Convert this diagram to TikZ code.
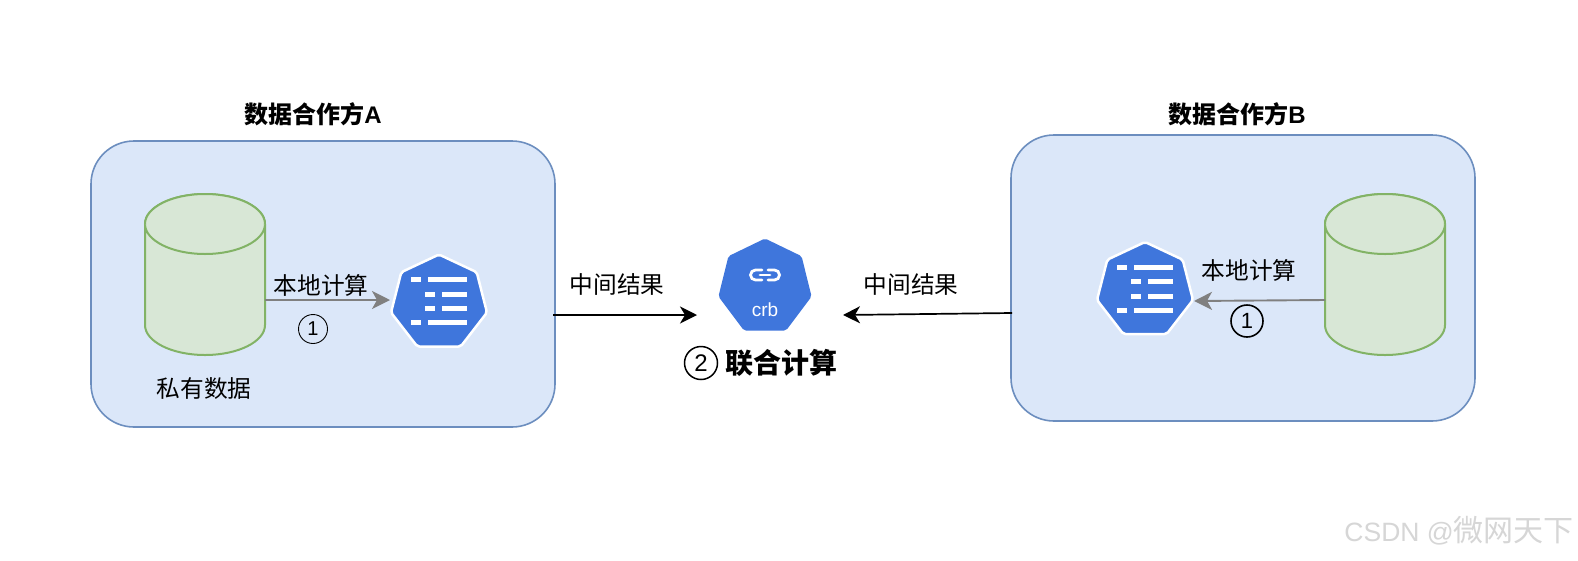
\documentclass[tikz,border=0pt]{standalone}
\usepackage{fontspec}
\setmainfont{Liberation Sans}
\newfontfamily\cjk{Noto Sans CJK SC}
\usetikzlibrary{arrows.meta}
\definecolor{boxfill}{HTML}{DBE7F9}
\definecolor{boxline}{HTML}{6C8EBF}
\definecolor{cylfill}{HTML}{D8E7D6}
\definecolor{cylline}{HTML}{82B366}
\definecolor{kblue}{HTML}{3F76DC}
\definecolor{wm}{HTML}{D6D6D6}
\tikzset{
  party/.style={draw=boxline,fill=boxfill,line width=1.6pt,rounded corners=43pt,minimum width=464pt,minimum height=286pt,inner sep=0pt},
  cyl/.style={draw=cylline,fill=cylfill,line width=2pt},
  lbl/.style={font=\fontsize{23.7}{26}\selectfont\cjk,inner sep=0pt,text=black},
  title/.style={font=\fontsize{24}{27}\selectfont\bfseries,inner sep=0pt,text=black},
  grayarrow/.style={draw=gray,line width=1.9pt,-{Stealth[length=18pt,width=18pt,inset=5pt]}},
  blackarrow/.style={draw=black,line width=1.7pt,-{Stealth[length=17pt,width=17pt,inset=5pt]}},
  num/.style={circle,draw=black,inner sep=0pt,text=black},
  hept/.style={fill=kblue,line join=round,rounded corners=2pt},
  bar/.style={fill=white,draw=none},
  anchorbox/.style={inner sep=0pt,minimum width=100pt,minimum height=92pt}
}
\newcommand{\mycyl}[3]{%
  \path[cyl] (#2,#3+30) -- (#2,#3+131) arc[start angle=180,end angle=360,x radius=60,y radius=-30]
     -- (#2+120,#3+30) arc[start angle=0,end angle=360,x radius=60,y radius=-30];
  \path[cyl] (#2,#3+30) arc[start angle=180,end angle=360,x radius=60,y radius=30];
  \node[inner sep=0pt,minimum width=120pt,minimum height=161pt] (#1) at (#2+60,#3+80.5) {};
}
\newcommand{\hepta}[4]{%
  \begin{scope}[shift={(#1,#2)},xscale=#4]
    \path[hept,#3] (0,0) -- (37.7,17.7) -- (48,58) -- (21.7,92) -- (-21.7,92) -- (-48,58) -- (-37.7,17.7) -- cycle;
  \end{scope}
}
\newcommand{\bars}[2]{%
  \begin{scope}[shift={(#1,#2)}]
    \foreach \yy in {25.3,68.3}{
      \fill[bar] (-28,\yy-2.5) rectangle (-18,\yy+2.5);
      \fill[bar] (-11.3,\yy-2.5) rectangle (28,\yy+2.5);
    }
    \foreach \yy in {39.7,54}{
      \fill[bar] (-14,\yy-2.5) rectangle (-4,\yy+2.5);
      \fill[bar] (3,\yy-2.5) rectangle (28,\yy+2.5);
    }
  \end{scope}
}
\begin{document}
\begin{tikzpicture}[x=1pt,y=-1pt]
\useasboundingbox (0,0) rectangle (1578,560);
\fill[white] (0,0) rectangle (1578,560);

\node[party] (boxA) at (323,284) {};
\node[party] (boxB) at (1243,278) {};

\mycyl{cylA}{145}{194}
\mycyl{cylB}{1325}{194}

\hepta{439}{254.5}{draw=white,line width=2.5pt}{1}
\bars{439}{254.5}
\node[anchorbox] (iconA) at (439,300) {};

\hepta{1145}{242}{draw=white,line width=2.5pt}{1}
\bars{1145}{242}
\node[anchorbox] (iconB) at (1145,288) {};

\hepta{765}{238.5}{}{0.97}
\node[anchorbox] (iconC) at (765,284) {};
\begin{scope}[shift={(765,275)}]
  \draw[white,line width=2.8pt,rounded corners=5pt,line cap=round] (-3,-5) -- (-14.5,-5) -- (-14.5,5) -- (-3,5);
  \draw[white,line width=2.8pt,rounded corners=5pt,line cap=round] (3,-5) -- (14.5,-5) -- (14.5,5) -- (3,5);
  \draw[white,line width=2.8pt,line cap=round] (-5,0) -- (5,0);
\end{scope}
\node[font=\fontsize{19}{20}\selectfont,text=white,inner sep=0pt] (crb) at (765,310) {crb};

\coordinate (sA) at (265,300);
\coordinate (eA) at (390,300);
\coordinate (sB) at (1325,300);
\coordinate (eB) at (1194,301);
\draw[grayarrow] (sA) -- (eA);
\draw[grayarrow] (sB) -- (eB);

\coordinate (oA) at (553,315);
\coordinate (tA) at (697,315);
\coordinate (oB) at (1012,313);
\coordinate (tB) at (843,315);
\draw[blackarrow] (oA) -- (tA);
\draw[blackarrow] (oB) -- (tB);

\node[title] (tA1) at (313,114.5) {{\cjk 数据合作方}A};
\node[title] (tB1) at (1237,114.5) {{\cjk 数据合作方}B};
\node[lbl] (priv) at (204,389) {私有数据};
\node[lbl] (locA) at (321,285) {本地计算};
\node[lbl] (locB) at (1249,270) {本地计算};
\node[lbl] (midA) at (617,284) {中间结果};
\node[lbl] (midB) at (911,284) {中间结果};
\node[num,line width=0.9pt,minimum size=29pt,font=\fontsize{20}{22}\selectfont] (n1A) at (313,329) {1};
\node[num,line width=1.6pt,minimum size=32pt,font=\fontsize{22}{24}\selectfont] (n1B) at (1247,321) {1};
\node[num,line width=1.5pt,minimum size=33pt,font=\fontsize{24}{26}\selectfont] (n2) at (701,363) {2};
\node[font=\fontsize{28}{30}\selectfont\cjk\bfseries,inner sep=0pt] (joint) at (781,363) {联合计算};
\node[font=\fontsize{26.5}{28}\selectfont,text=wm,inner sep=0pt,anchor=east] (wmk) at (1574,531) {CSDN @{\fontsize{30}{31}\selectfont\cjk 微网天下}};
\end{tikzpicture}
\end{document}
